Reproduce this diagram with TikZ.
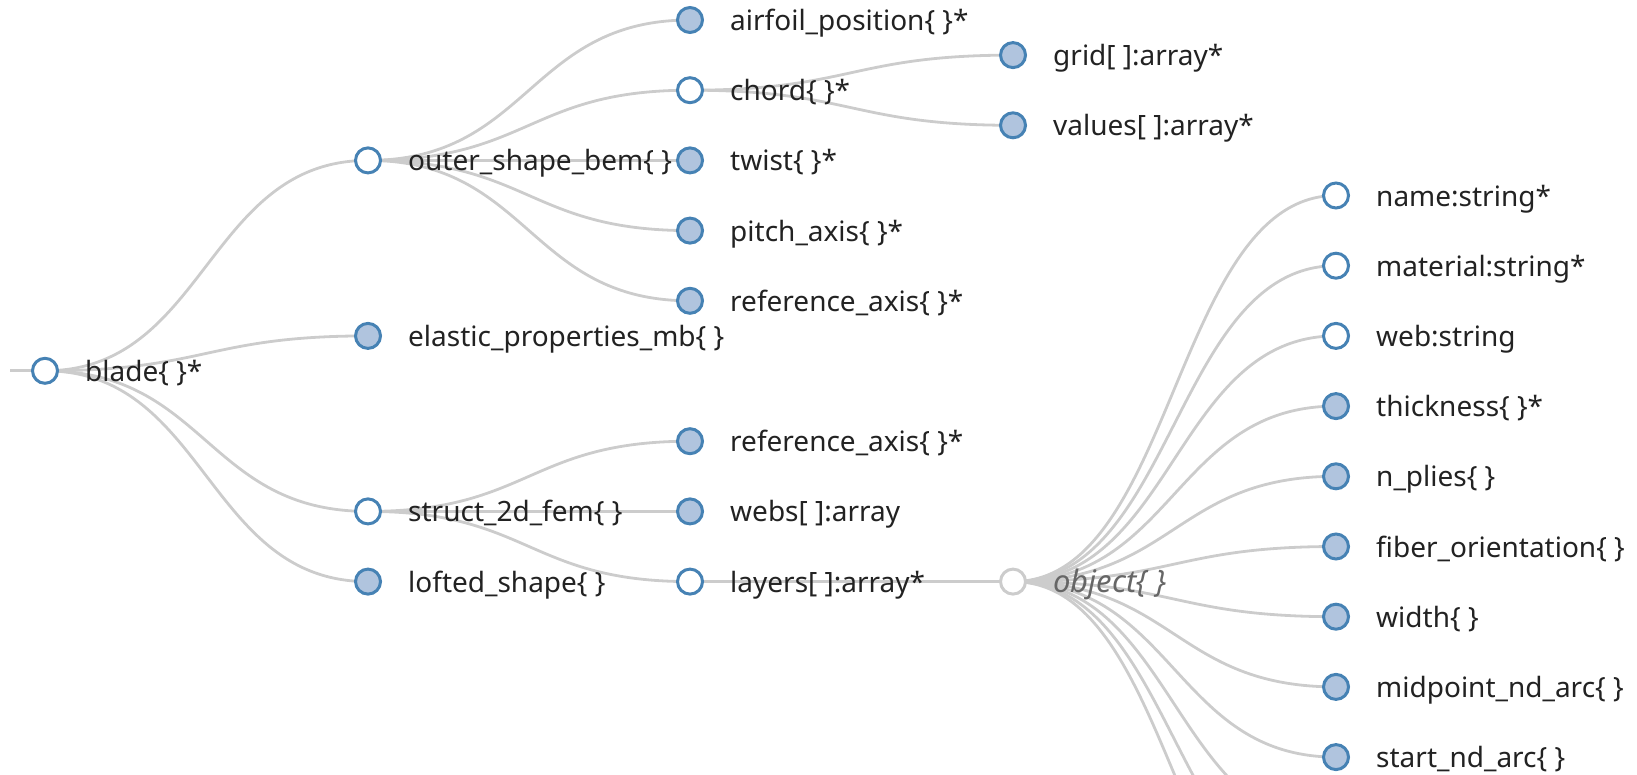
\documentclass[tikz,border=0pt]{standalone}
\usepackage{fontspec}
\setmainfont{Noto Sans}
\usetikzlibrary{positioning, backgrounds}
\definecolor{steel}{HTML}{4682B4}
\definecolor{lightsteel}{HTML}{B0C4DE}
\definecolor{linkgray}{HTML}{CCCCCC}
\definecolor{inkgray}{HTML}{222222}
\definecolor{ghostgray}{HTML}{666666}
\tikzset{
  schematree/.style={
	x=1pt, y=-1pt, % one unit is one pixel of the screenshot, y runs downwards
	font=\fontsize{28}{33}\selectfont, % size of all the texts
	dot/.style={circle, draw=steel, line width=3pt, minimum size=25pt, inner sep=0pt}, % the node circles
	expanded/.style={dot, fill=white}, % node that is opened (or has no children)
	collapsed/.style={dot, fill=lightsteel}, % node whose children are hidden
	ghost/.style={dot, draw=linkgray, fill=white}, % array item placeholder
	nodetext/.style={anchor=base west, inner sep=0pt, xshift=40pt, yshift=-10.5pt, text=inkgray}, % text right of a circle
	link/.style={draw=linkgray, line width=2.8pt}, % the edges
	diag/.style={to path={.. controls +(161.4,0) and +(-161.4,0) .. (\tikztotarget)}}, % d3 style diagonal
  }
}

\begin{document}
\begin{tikzpicture}[schematree]
\useasboundingbox (0,0) rectangle (1637,774);

\coordinate (in) at (10,370.8);
\node[expanded] (blade) at (45,370.8) {};
\node[expanded] (outer) at (368,160.4) {};
\node[collapsed] (elastic) at (368,335.9) {};
\node[expanded] (struct) at (368,511.4) {};
\node[collapsed] (lofted) at (368,581.6) {};
\node[collapsed] (airfoil) at (690,20) {};
\node[expanded] (chord) at (690,90.2) {};
\node[collapsed] (twist) at (690,160.4) {};
\node[collapsed] (pitch) at (690,230.6) {};
\node[collapsed] (refaxis) at (690,300.8) {};
\node[collapsed] (srefaxis) at (690,441.2) {};
\node[collapsed] (webs) at (690,511.4) {};
\node[expanded] (layers) at (690,581.6) {};
\node[collapsed] (grid) at (1013,55.1) {};
\node[collapsed] (values) at (1013,125.3) {};
\node[ghost] (object) at (1013,581.6) {};
\node[expanded] (name) at (1336,195.5) {};
\node[expanded] (material) at (1336,265.7) {};
\node[expanded] (web) at (1336,335.9) {};
\node[collapsed] (thickness) at (1336,406.1) {};
\node[collapsed] (nplies) at (1336,476.3) {};
\node[collapsed] (fiber) at (1336,546.5) {};
\node[collapsed] (width) at (1336,616.7) {};
\node[collapsed] (midpoint) at (1336,686.9) {};
\node[collapsed] (start) at (1336,757.1) {};
\coordinate (more1) at (1336,827.3);
\coordinate (more2) at (1336,897.5);
\coordinate (more3) at (1336,967.7);

\node[nodetext] (blade-t) at (blade.center) {blade\{ \}*};
\node[nodetext] (outer-t) at (outer.center) {outer\_shape\_bem\{ \}};
\node[nodetext] (elastic-t) at (elastic.center) {elastic\_properties\_mb\{ \}};
\node[nodetext] (struct-t) at (struct.center) {struct\_2d\_fem\{ \}};
\node[nodetext] (lofted-t) at (lofted.center) {lofted\_shape\{ \}};
\node[nodetext] (airfoil-t) at (airfoil.center) {airfoil\_position\{ \}*};
\node[nodetext] (chord-t) at (chord.center) {chord\{ \}*};
\node[nodetext] (twist-t) at (twist.center) {twist\{ \}*};
\node[nodetext] (pitch-t) at (pitch.center) {pitch\_axis\{ \}*};
\node[nodetext] (refaxis-t) at (refaxis.center) {reference\_axis\{ \}*};
\node[nodetext] (srefaxis-t) at (srefaxis.center) {reference\_axis\{ \}*};
\node[nodetext] (webs-t) at (webs.center) {webs[ ]:array};
\node[nodetext] (layers-t) at (layers.center) {layers[ ]:array*};
\node[nodetext] (grid-t) at (grid.center) {grid[ ]:array*};
\node[nodetext] (values-t) at (values.center) {values[ ]:array*};
\node[nodetext, text=ghostgray, font=\fontsize{31}{36}\selectfont\itshape] (object-t) at (object.center) {object\{ \}};
\node[nodetext] (name-t) at (name.center) {name:string*};
\node[nodetext] (material-t) at (material.center) {material:string*};
\node[nodetext] (web-t) at (web.center) {web:string};
\node[nodetext] (thickness-t) at (thickness.center) {thickness\{ \}*};
\node[nodetext] (nplies-t) at (nplies.center) {n\_plies\{ \}};
\node[nodetext] (fiber-t) at (fiber.center) {fiber\_orientation\{ \}};
\node[nodetext] (width-t) at (width.center) {width\{ \}};
\node[nodetext] (midpoint-t) at (midpoint.center) {midpoint\_nd\_arc\{ \}};
\node[nodetext] (start-t) at (start.center) {start\_nd\_arc\{ \}};

\begin{scope}[on background layer]
\draw[link] (in) -- (blade.center);
\draw[link] (blade.center) edge[diag] (outer.center)
	(blade.center) edge[diag] (elastic.center)
	(blade.center) edge[diag] (struct.center)
	(blade.center) edge[diag] (lofted.center)
	(outer.center) edge[diag] (airfoil.center)
	(outer.center) edge[diag] (chord.center)
	(outer.center) edge[diag] (twist.center)
	(outer.center) edge[diag] (pitch.center)
	(outer.center) edge[diag] (refaxis.center)
	(chord.center) edge[diag] (grid.center)
	(chord.center) edge[diag] (values.center)
	(struct.center) edge[diag] (srefaxis.center)
	(struct.center) edge[diag] (webs.center)
	(struct.center) edge[diag] (layers.center)
	(layers.center) edge[diag] (object.center)
	(object.center) edge[diag] (name.center)
	(object.center) edge[diag] (material.center)
	(object.center) edge[diag] (web.center)
	(object.center) edge[diag] (thickness.center)
	(object.center) edge[diag] (nplies.center)
	(object.center) edge[diag] (fiber.center)
	(object.center) edge[diag] (width.center)
	(object.center) edge[diag] (midpoint.center)
	(object.center) edge[diag] (start.center)
	(object.center) edge[diag] (more1)
	(object.center) edge[diag] (more2)
	(object.center) edge[diag] (more3)
;
\end{scope}
\end{tikzpicture}
\end{document}
